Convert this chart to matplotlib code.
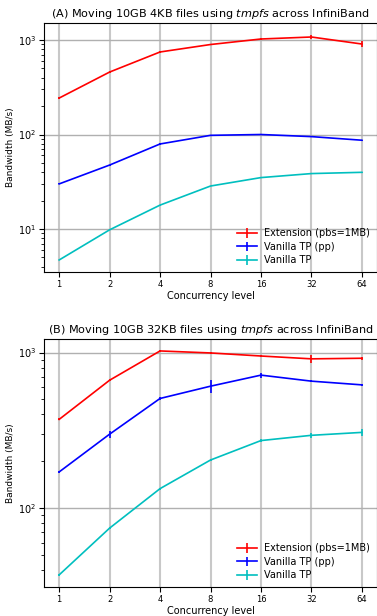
import matplotlib
matplotlib.use("Agg")
import matplotlib.pyplot as plt
from matplotlib.ticker import FixedLocator, FixedFormatter, NullFormatter

concurrency = [1, 2, 4, 8, 16, 32, 64]
labels = ['Extension (pbs=1MB)', 'Vanilla TP (pp)', 'Vanilla TP']
colors = ['r', 'b', 'c']

# (A) 4KB files
a_ext = [243, 458, 747, 896, 1025, 1076, 907]
a_ext_err = [5, 10, 12, 15, 15, 45, 65]
a_pp = [30, 47.5, 79.4, 98, 100, 95, 87]
a_pp_err = [0.4, 0.6, 1.5, 1.5, 2, 1.5, 1.5]
a_van = [4.7, 9.8, 17.9, 28.5, 35, 38.6, 39.8]
a_van_err = [0.05, 0.1, 0.2, 0.3, 0.4, 0.4, 0.5]

# (B) 32KB files
b_ext = [372, 664, 1024, 994, 950, 911, 919]
b_ext_err = [5, 8, 10, 10, 10, 60, 20]
b_pp = [171, 299, 507, 608, 716, 655, 620]
b_pp_err = [3, 15, 12, 60, 25, 10, 12]
b_van = [37.3, 74.5, 133.6, 204, 272, 294, 307]
b_van_err = [0.5, 1, 2, 3, 5, 10, 18]

panels = [
    ('(A) Moving 10GB 4KB files using $\\it{tmpfs}$ across InfiniBand',
     [(a_ext, a_ext_err), (a_pp, a_pp_err), (a_van, a_van_err)], (10**0.545, 10**3.18)),
    ('(B) Moving 10GB 32KB files using $\\it{tmpfs}$ across InfiniBand',
     [(b_ext, b_ext_err), (b_pp, b_pp_err), (b_van, b_van_err)], (10**1.494, 10**3.087)),
]

W, H = 377, 616
fig = plt.figure(figsize=(W / 100, H / 100), dpi=100)
boxes = [(44, 23, 272), (44, 339, 587)]

for (title, series, ylim), (x0, top, bot) in zip(panels, boxes):
    ax = fig.add_axes([x0 / W, 1 - bot / H, (W - x0) / W, (bot - top) / H])
    for (vals, err), c, lab in zip(series, colors, labels):
        ax.errorbar(concurrency, vals, yerr=err, color=c, label=lab, lw=1.2, elinewidth=1.2)
    ax.set_xscale('log', base=2)
    ax.set_yscale('log')
    ax.set_ylim(ylim)
    ax.set_xlim(2 ** -0.3, 2 ** 6.3)
    ax.xaxis.set_major_locator(FixedLocator(concurrency))
    ax.xaxis.set_major_formatter(FixedFormatter([str(c) for c in concurrency]))
    ax.xaxis.set_minor_formatter(NullFormatter())
    ax.tick_params(axis='x', labelsize=6, pad=2)
    ax.tick_params(axis='y', labelsize=7, pad=2)
    ax.xaxis.grid(True, color='#c8c8c8', lw=1.5)
    ax.yaxis.grid(True, which='major', color='#b0b0b0', lw=1.0)
    ax.set_axisbelow(True)
    ax.set_title(title, fontsize=8.1, pad=4)
    ax.set_xlabel('Concurrency level', fontsize=7, labelpad=2)
    ax.set_ylabel('Bandwidth (MB/s)', fontsize=6.5, labelpad=2)
    ax.legend(loc='lower right', frameon=False, fontsize=7, handlelength=2.0,
              borderaxespad=0.3, labelspacing=0.35, handletextpad=0.8)

fig.savefig('out.png', dpi=100)
